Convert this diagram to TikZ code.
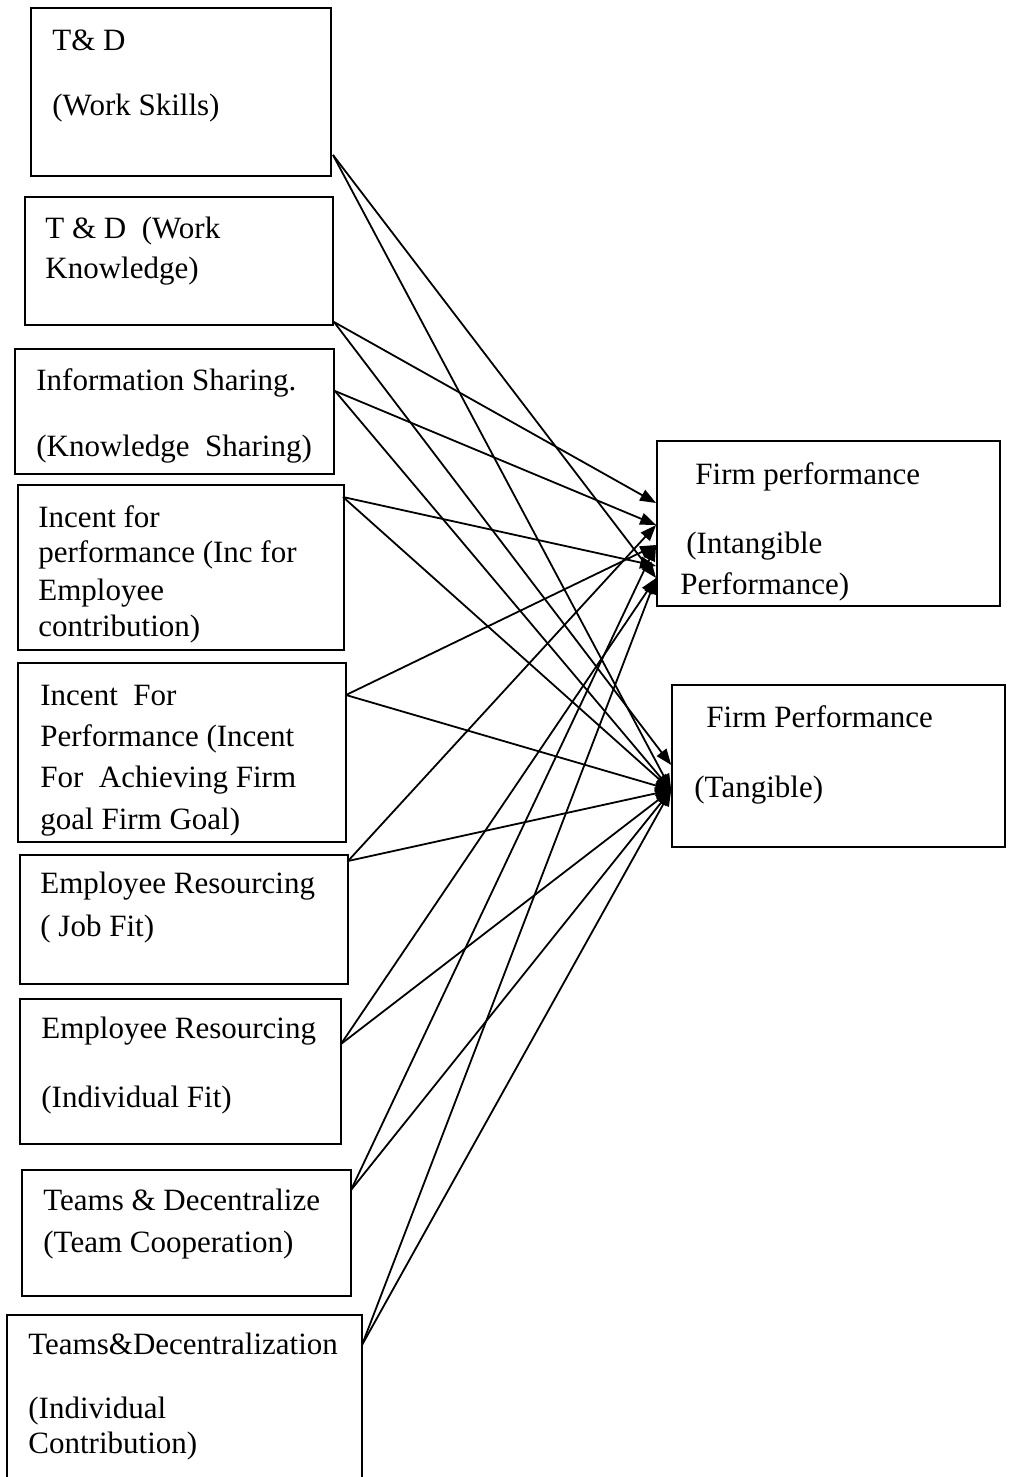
\documentclass[tikz,border=0pt]{standalone}
\usepackage{fontspec}
\setmainfont{Liberation Serif}
\usepackage{tikz}
\usetikzlibrary{arrows.meta}
\usetikzlibrary{positioning}

\begin{document}
\begin{tikzpicture}[x=0.5pt,y=-0.5pt,
        hrbox/.style={draw,line width=0.9pt,rectangle,inner sep=0pt},
        txt/.style={anchor=base west,inner sep=0pt,font=\fontsize{15.5}{18.5}\selectfont},
        arr/.style={line width=0.9pt,-{Triangle[length=8pt,width=6pt]}}]

        \useasboundingbox (0,0) rectangle (1008,1477);
        \clip (0,0) rectangle (1008,1477);

        % practice boxes (left)
        \node[hrbox,minimum width=150pt,minimum height=84pt] (b1) at (181,92) {};
        \node[hrbox,minimum width=154pt,minimum height=64pt] (b2) at (179,261) {};
        \node[hrbox,minimum width=159.5pt,minimum height=62.5pt] (b3) at (174.5,411.5) {};
        \node[hrbox,minimum width=163pt,minimum height=82.5pt] (b4) at (181,567.5) {};
        \node[hrbox,minimum width=164pt,minimum height=89.5pt] (b5) at (182,752.5) {};
        \node[hrbox,minimum width=164pt,minimum height=64.5pt] (b6) at (184,919.5) {};
        \node[hrbox,minimum width=160.5pt,minimum height=72.5pt] (b7) at (180.5,1071.5) {};
        \node[hrbox,minimum width=164.5pt,minimum height=63pt] (b8) at (186.5,1233) {};
        \node[hrbox,minimum width=177.5pt,minimum height=100pt] (b9) at (184.5,1415) {};

        % performance boxes (right)
        \node[hrbox,minimum width=171.5pt,minimum height=82.5pt] (r1) at (828.5,523.5) {};
        \node[hrbox,minimum width=166.5pt,minimum height=81pt] (r2) at (1006,766) [anchor=east] {};

        % texts
        \node[txt] (t1a) at (52,51) {T\& D};
        \node[txt] (t1b) at (52,116) {(Work Skills)};
        \node[txt] (t2a) at (45,238) {T \& D\ \ (Work};
        \node[txt] (t2b) at (45,278) {Knowledge)};
        \node[txt] (t3a) at (36,390) {Information Sharing.};
        \node[txt] (t3b) at (36,456) {(Knowledge\ \ Sharing)};
        \node[txt] (t4a) at (38,527) {Incent for};
        \node[txt] (t4b) at (38,562) {performance (Inc for};
        \node[txt] (t4c) at (38,600) {Employee};
        \node[txt] (t4d) at (38,636) {contribution)};
        \node[txt] (t5a) at (40,705) {Incent\ \ For};
        \node[txt] (t5b) at (40,746) {Performance (Incent};
        \node[txt] (t5c) at (40,787) {For\ \ Achieving Firm};
        \node[txt] (t5d) at (40,829) {goal Firm Goal)};
        \node[txt] (t6a) at (40,893) {Employee Resourcing};
        \node[txt] (t6b) at (40,936) {( Job Fit)};
        \node[txt] (t7a) at (41,1038) {Employee Resourcing};
        \node[txt] (t7b) at (41,1107) {(Individual Fit)};
        \node[txt] (t8a) at (43,1210) {Teams \& Decentralize};
        \node[txt] (t8b) at (43,1252) {(Team Cooperation)};
        \node[txt] (t9a) at (28,1354) {Teams\&Decentralization};
        \node[txt] (t9b) at (28,1418) {(Individual};
        \node[txt] (t9c) at (28,1453) {Contribution)};
        \node[txt] (s1a) at (695,484) {Firm performance};
        \node[txt] (s1b) at (686,553) {(Intangible};
        \node[txt] (s1c) at (680,594) {Performance)};
        \node[txt] (s2a) at (706,727) {Firm Performance};
        \node[txt] (s2b) at (694,797) {(Tangible)};

        % line ends
        \coordinate (b1o) at (333,155);
        \coordinate (b2o) at (334,322);
        \coordinate (b3o) at (335,391);
        \coordinate (b4o) at (343,497);
        \coordinate (b5o) at (346,695);
        \coordinate (b6o) at (348,861);
        \coordinate (b7o) at (341,1044);
        \coordinate (b8o) at (351,1190);
        \coordinate (b9o) at (362,1345);
        \coordinate (r1a) at (r1.west |- 0,503);
        \coordinate (r1b) at (r1.west |- 0,525);
        \coordinate (r1c) at (r1.west |- 0,545);
        \coordinate (r1d) at (r1.west |- 0,566);
        \coordinate (r1e) at (r1.west |- 0,578);
        \coordinate (r2a) at (r2.west |- 0,765);
        \coordinate (r2b) at (r2.west |- 0,790);

        \draw[arr] (b1o) -- (r1e); \draw[arr] (b1o) -- (r2b);
        \draw[arr] (b2o) -- (r1a); \draw[arr] (b2o) -- (r2a);
        \draw[arr] (b3o) -- (r1b); \draw[arr] (b3o) -- (r2b);
        \draw[arr] (b4o) -- (r1d); \draw[arr] (b4o) -- (r2b);
        \draw[arr] (b5o) -- (r1c); \draw[arr] (b5o) -- (r2b);
        \draw[arr] (b6o) -- (r1b); \draw[arr] (b6o) -- (r2b);
        \draw[arr] (b7o) -- (r1e); \draw[arr] (b7o) -- (r2b);
        \draw[arr] (b8o) -- (r1c); \draw[arr] (b8o) -- (r2b);
        \draw[arr] (b9o) -- (r1e); \draw[arr] (b9o) -- (r2b);

    \end{tikzpicture}
\end{document}
